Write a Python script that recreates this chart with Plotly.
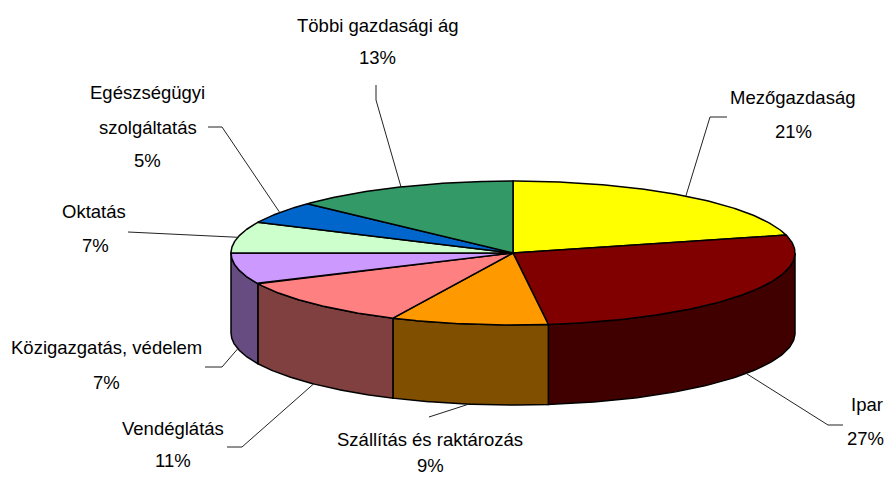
import numpy as np
import plotly.graph_objects as go

# ---- data ----
labels = ["Mezőgazdaság", "Ipar", "Szállítás és raktározás", "Vendéglátás",
          "Közigazgatás, védelem", "Oktatás", "Egészségügyi szolgáltatás",
          "Többi gazdasági ág"]
label_lines = [["Mezőgazdaság"], ["Ipar"], ["Szállítás és raktározás"], ["Vendéglátás"],
               ["Közigazgatás, védelem"], ["Oktatás"], ["Egészségügyi", "szolgáltatás"],
               ["Többi gazdasági ág"]]
values = [21, 27, 9, 11, 7, 7, 5, 13]
top_colors = ["#FFFF00", "#800000", "#FF9900", "#FF8080", "#CC99FF", "#CCFFCC", "#0066CC", "#339966"]
side_colors = ["#808000", "#400000", "#805000", "#804040", "#664C80", "#668066", "#003366", "#1A4D33"]

# ---- layout parameters (pixel-like coordinate system) ----
W, H = 886, 478
CX, CY, RX, RY, DEPTH = 513, 253, 282, 72, 80
FONT = "Liberation Sans, Arial, sans-serif"
FS = 18.5

# label layout: list of (x, y) centres for each text line, and leader elbow points
label_pos = [
    [(792, 97), (793, 131)],
    [(867, 404), (865, 438)],
    [(430, 439), (430, 465)],
    [(173, 428), (173, 460)],
    [(106, 347), (106, 382)],
    [(94, 211), (95, 245)],
    [(147, 92), (148, 127), (147, 160)],
    [(377, 25), (377, 57)],
]
leader_elbows = [
    [(710, 117), (727, 117)],
    [(828, 425), (843, 425)],
    [(429, 417)],
    [(242, 447), (227, 447)],
    [(222, 367), (205, 367)],
    [(128, 232)],
    [(222, 127), (208, 127)],
    [(376, 100), (376, 85)],
]

total = float(sum(values))
cum = np.concatenate([[0], np.cumsum(values)]) / total * 360.0


def ell(theta_deg, dy=0.0):
    t = np.radians(theta_deg)
    return CX + RX * np.sin(t), CY - RY * np.cos(t) + dy


fig = go.Figure()

# side walls (front half: 90..270 degrees)
for i in range(len(values)):
    s, e = max(cum[i], 90.0), min(cum[i + 1], 270.0)
    if e <= s:
        continue
    th = np.linspace(s, e, 80)
    xt, yt = ell(th)
    xb, yb = ell(th[::-1], DEPTH)
    xs = np.concatenate([xt, xb, xt[:1]])
    ys = np.concatenate([yt, yb, yt[:1]])
    fig.add_trace(go.Scatter(x=xs, y=ys, mode="lines", fill="toself",
                             fillcolor=side_colors[i], line=dict(color="black", width=1.5),
                             hoverinfo="skip", showlegend=False))

# top faces
for i in range(len(values)):
    th = np.linspace(cum[i], cum[i + 1], 120)
    xa, ya = ell(th)
    xs = np.concatenate([[CX], xa, [CX]])
    ys = np.concatenate([[CY], ya, [CY]])
    fig.add_trace(go.Scatter(x=xs, y=ys, mode="lines", fill="toself",
                             fillcolor=top_colors[i], line=dict(color="black", width=1.5),
                             hoverinfo="skip", showlegend=False, name=labels[i]))

# leader lines
for i in range(len(values)):
    mid = (cum[i] + cum[i + 1]) / 2.0
    front = 90 < mid < 270
    ax, ay = ell(mid, DEPTH if front else 0.0)
    pts = [(float(ax), float(ay))] + leader_elbows[i]
    fig.add_trace(go.Scatter(x=[p[0] for p in pts], y=[p[1] for p in pts], mode="lines",
                             line=dict(color="#222222", width=1), hoverinfo="skip",
                             showlegend=False))

# labels
annotations = []
for i in range(len(values)):
    texts = label_lines[i] + [f"{values[i] / total * 100:.0f}%"]
    for t, (x, y) in zip(texts, label_pos[i]):
        annotations.append(dict(x=x, y=y, text=t, showarrow=False, xref="x", yref="y",
                                xanchor="center", yanchor="middle",
                                font=dict(family=FONT, size=FS, color="black")))

fig.update_layout(
    width=W, height=H,
    margin=dict(l=0, r=0, t=0, b=0),
    paper_bgcolor="white", plot_bgcolor="white",
    xaxis=dict(range=[0, W], visible=False, fixedrange=True),
    yaxis=dict(range=[H, 0], visible=False, fixedrange=True),
    annotations=annotations,
    showlegend=False,
)

fig.write_html("out.html", config={"displayModeBar": False},
               post_script="document.body.style.margin='0';document.body.style.overflow='hidden';")
